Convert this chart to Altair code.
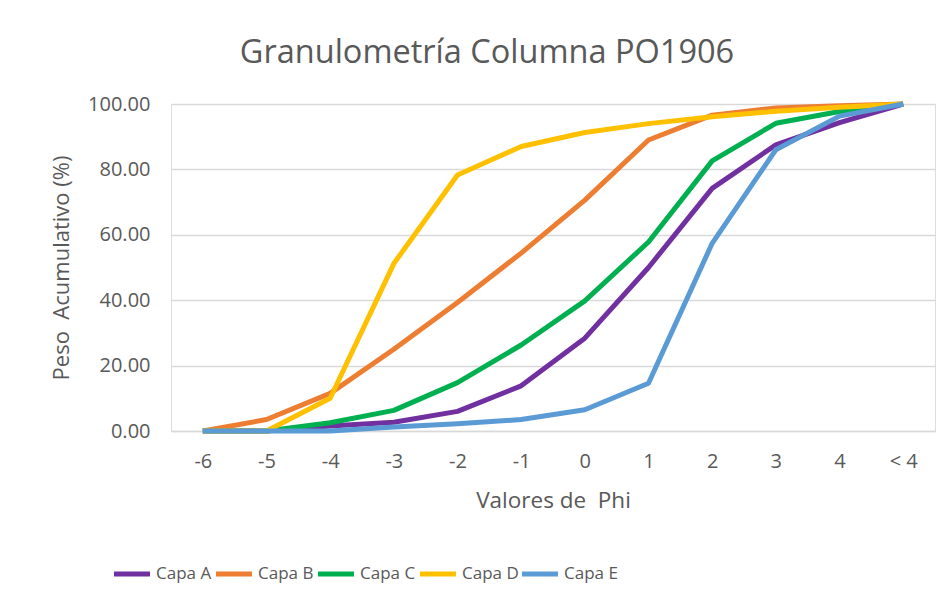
import altair as alt
import pandas as pd

categories = ["-6", "-5", "-4", "-3", "-2", "-1", "0", "1", "2", "3", "4", "< 4"]
capa_a = [0, 0, 1.5, 2.7, 6.0, 13.8, 28.4, 50.0, 74.2, 87.5, 94.3, 100]
capa_b = [0, 3.5, 11.5, 25.0, 39.3, 54.4, 70.6, 89.0, 96.6, 98.8, 99.5, 100]
capa_c = [0, 0, 2.5, 6.3, 14.8, 26.3, 39.8, 57.8, 82.6, 94.1, 97.7, 100]
capa_d = [0, 0, 10.0, 51.2, 78.3, 87.0, 91.3, 94.0, 96.1, 97.8, 99.0, 100]
capa_e = [0, 0, 0, 1.2, 2.2, 3.5, 6.5, 14.6, 57.4, 86.0, 96.3, 100]

series = {"Capa A": capa_a, "Capa B": capa_b, "Capa C": capa_c, "Capa D": capa_d, "Capa E": capa_e}
colors = ["#7030A0", "#ED7D31", "#00B050", "#FFC000", "#5B9BD5"]

rows = []
for name, vals in series.items():
    for i, (c, v) in enumerate(zip(categories, vals)):
        rows.append({"phi": c, "valor": v, "capa": name, "orden": i})
df = pd.DataFrame(rows)

FONT = "Open Sans"
GREY = "#595959"

chart = alt.Chart(df).mark_line(strokeWidth=5, strokeJoin="round").encode(
    x=alt.X("phi:O", sort=categories,
            scale=alt.Scale(type="point", padding=0.5),
            axis=alt.Axis(title="Valores de\u00a0\u00a0Phi", labelAngle=0, ticks=False,
                          domainColor="#d9d9d9", domainWidth=1.5,
                          labelFontSize=20, labelColor=GREY, labelPadding=20,
                          titleFontSize=22.5, titleColor=GREY, titleFontWeight="normal",
                          titlePadding=18, labelFont=FONT, titleFont=FONT)),
    y=alt.Y("valor:Q", scale=alt.Scale(domain=[0, 100]),
            axis=alt.Axis(title="Peso\u00a0\u00a0Acumulativo (%)", values=[0, 20, 40, 60, 80, 100],
                          format=".2f", ticks=False, domain=False,
                          gridColor="#d9d9d9", gridWidth=1.5,
                          labelFontSize=20, labelColor=GREY, labelPadding=21,
                          titleFontSize=22, titleColor=GREY, titleFontWeight="normal",
                          titlePadding=14, labelFont=FONT, titleFont=FONT)),
    color=alt.Color("capa:N", scale=alt.Scale(domain=list(series.keys()), range=colors),
                    legend=alt.Legend(title=None, orient="none", direction="horizontal",
                                      legendX=-60, legendY=449,
                                      symbolType="stroke", symbolStrokeWidth=5,
                                      symbolSize=1300, labelFontSize=17, labelColor=GREY,
                                      labelFont=FONT, labelOffset=3, columnPadding=-9,
                                      gridAlign="all")),
    order="orden:Q",
).properties(
    width=764, height=327,
    autosize=alt.AutoSizeParams(type="none"),
    padding={"left": 163, "top": 96, "right": 9, "bottom": 170},
    title=alt.TitleParams("Granulometría Columna PO1906", fontSize=32.5, font=FONT,
                          fontWeight="normal", color=GREY, dx=-66, offset=25),
).configure_view(stroke=None).configure(background="white")

chart.save("out.html", embed_options={"renderer": "svg", "actions": False})
